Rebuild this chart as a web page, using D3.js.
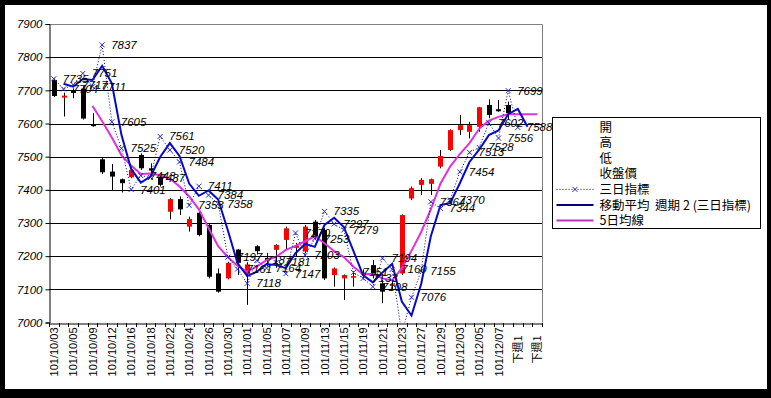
<!DOCTYPE html>
<html>
<head>
<meta charset="utf-8">
<script src="https://cdn.jsdelivr.net/npm/d3@7"></script>
<style>
body { margin: 0; background: #000; }
svg { display: block; }
.num { font-family: "Liberation Sans", Arial, sans-serif; font-style: italic; font-size: 11.5px; fill: #000; }
.cjk { font-family: "Noto Sans CJK TC", "Noto Sans CJK SC", sans-serif; font-size: 12.5px; fill: #000; }
</style>
</head>
<body>
<svg width="771" height="398"></svg>
<script>
var dates = ["101/10/03","101/10/04","101/10/05","101/10/08","101/10/09","101/10/11","101/10/12","101/10/15",
    "101/10/16","101/10/17","101/10/18","101/10/19","101/10/22","101/10/23","101/10/24","101/10/25","101/10/26",
    "101/10/29","101/10/30","101/10/31","101/11/01","101/11/02","101/11/05","101/11/06","101/11/07","101/11/08",
    "101/11/09","101/11/12","101/11/13","101/11/14","101/11/15","101/11/16","101/11/19","101/11/20","101/11/21",
    "101/11/22","101/11/23","101/11/26","101/11/27","101/11/28","101/11/29","101/11/30","101/12/03","101/12/04",
    "101/12/05","101/12/06","101/12/07","101/12/10","下週1","下週1","下週1"];

var opens  = [7731,7678,7700,7705,7598,7492,7455,7432,7438,7505,7465,7440,7334,7372,7289,7331,7294,7148,7133,7220,
    7145,7230,7195,7219,7249,7225,7214,7304,7279,7143,7133,7135,7150,7173,7118,7110,7148,7374,7415,7418,
    7470,7520,7580,7575,7590,7656,7643,7656];
var highs  = [7736,7693,7706,7712,7631,7498,7478,7434,7470,7510,7480,7445,7375,7380,7319,7333,7298,7163,7183,7222,
    7182,7233,7210,7236,7289,7240,7294,7309,7285,7166,7145,7153,7160,7188,7128,7125,7326,7410,7435,7434,
    7520,7582,7626,7605,7650,7673,7671,7666];
var lows   = [7680,7621,7676,7612,7590,7448,7397,7392,7435,7460,7450,7410,7311,7324,7274,7260,7133,7090,7130,7143,
    7053,7205,7170,7165,7219,7200,7209,7250,7128,7108,7068,7108,7130,7133,7058,7100,7143,7369,7384,7384,
    7465,7517,7565,7555,7575,7616,7635,7611];
var closes = [7683,7684,7692,7615,7592,7453,7440,7420,7460,7465,7458,7415,7372,7341,7312,7264,7138,7093,7180,7180,
    7175,7215,7188,7234,7284,7232,7289,7259,7133,7163,7143,7140,7145,7143,7093,7115,7324,7405,7430,7432,
    7502,7580,7595,7595,7649,7626,7637,7631];

// 三日指標
var threeDay = [7735,7704,7717,7751,7711,7837,7605,7525,7401,7443,7437,7561,7520,7484,7353,7411,7384,7358,7197,7161,
    7118,7187,7164,7181,7147,7270,7203,7253,7335,7297,7279,7151,7133,7108,7194,7160,6966,7076,7155,7364,
    7344,7370,7454,7513,7528,7602,7556,7699,7588];
// 移動平均 週期 2 (三日指標)
var ma2 = [null,7720,7711,7734,7731,7774,7721,7565,7463,7422,7440,7499,7541,7502,7419,7382,7398,7371,7278,7179,
    7140,7153,7176,7173,7164,7209,7237,7228,7294,7316,7288,7215,7142,7121,7151,7177,7063,7021,7116,7260,
    7354,7360,7420,7484,7521,7565,7579,7628,7644,7590];
// 5日均線
var ma5 = [null,null,null,null,7653,7607,7558,7504,7473,7448,7449,7444,7434,7410,7380,7341,7285,7230,7197,7171,
    7153,7169,7188,7198,7219,7231,7245,7260,7239,7215,7197,7168,7145,7147,7133,7127,7164,7216,7273,7341,
    7419,7470,7508,7541,7584,7609,7620,7628,7628,7628,7628];

var yTicks = [7000,7100,7200,7300,7400,7500,7600,7700,7800,7900];
var legendNames = ["開","高","低","收盤價","三日指標","移動平均  週期 2 (三日指標)","5日均線"];

var svg = d3.select("svg");
var pL = 49, pR = 542, pT = 24, pB = 322.5;

var x = d3.scaleBand().domain(d3.range(dates.length)).range([pL, pR]);
var y = d3.scaleLinear().domain([7000, 7900]).range([pB, pT]);
var cx = function (i) { return x(i) + x.bandwidth() / 2; };

svg.append("rect").attr("x", 5).attr("y", 5).attr("width", 762).attr("height", 384).attr("fill", "#fff");

svg.append("clipPath").attr("id", "plotclip").append("rect")
    .attr("x", pL).attr("y", pT).attr("width", pR - pL).attr("height", pB - pT);

// gridlines
svg.append("g").selectAll("line").data(yTicks.slice(1, -1)).enter().append("line")
    .attr("x1", pL).attr("x2", pR)
    .attr("y1", function (d) { return Math.round(y(d)) + 0.5; })
    .attr("y2", function (d) { return Math.round(y(d)) + 0.5; })
    .attr("stroke", "#000");

// plot border (top/right)
svg.append("path")
    .attr("d", "M" + pL + "," + (pT + 0.5) + "H" + (pR + 0.5) + "V" + pB)
    .attr("fill", "none").attr("stroke", "#808080");

// y axis
var yAxis = svg.append("g").attr("transform", "translate(" + (pL + 0.5) + ",0)")
    .call(d3.axisLeft(y).tickValues(yTicks).tickSize(4).tickPadding(3).tickFormat(d3.format("d")));
yAxis.select(".domain").attr("stroke", "#000");
yAxis.selectAll(".tick text").attr("class", "num");
yAxis.attr("font-family", null).attr("font-size", null);

// x axis
var xAxis = svg.append("g").attr("transform", "translate(0," + (Math.round(pB) + 0.5) + ")")
    .call(d3.axisBottom(x).tickSize(0).tickFormat(""));
xAxis.select(".domain").attr("stroke", "#000");
svg.append("g").selectAll("line").data(d3.range(dates.length + 1)).enter().append("line")
    .attr("x1", function (i) { return Math.round(pL + i * x.step()) + 0.5; })
    .attr("x2", function (i) { return Math.round(pL + i * x.step()) + 0.5; })
    .attr("y1", Math.round(pB)).attr("y2", Math.round(pB) + 4)
    .attr("stroke", "#000");
svg.append("g").selectAll("text").data(d3.range(0, dates.length, 2)).enter().append("text")
    .attr("class", function (i) { return dates[i].indexOf("下") === 0 ? "cjk" : "num"; })
    .style("font-style", "normal")
    .style("font-size", "11px")
    .attr("text-anchor", "end")
    .attr("transform", function (i) {
        var dy = dates[i].indexOf("下") === 0 ? 13 : 5;
        return "translate(" + (cx(i) + 4) + "," + (pB + dy) + ") rotate(-90)";
    })
    .text(function (i) { return dates[i]; });

var plot = svg.append("g").attr("clip-path", "url(#plotclip)");

// candles
var candles = plot.append("g").selectAll("g").data(closes).enter().append("g");
candles.append("line")
    .attr("x1", function (d, i) { return Math.round(cx(i)) + 0.5; })
    .attr("x2", function (d, i) { return Math.round(cx(i)) + 0.5; })
    .attr("y1", function (d, i) { return y(highs[i]); })
    .attr("y2", function (d, i) { return y(lows[i]); })
    .attr("stroke", "#000");
candles.append("rect")
    .attr("x", function (d, i) { return Math.round(cx(i)) - 2; })
    .attr("width", 5)
    .attr("y", function (d, i) { return y(Math.max(d, opens[i])); })
    .attr("height", function (d, i) { return Math.max(1.5, Math.abs(y(d) - y(opens[i]))); })
    .attr("fill", function (d, i) { return d >= opens[i] ? "#ff0000" : "#000"; });

var line = function (arr) {
    return d3.line().defined(function (d) { return d != null; })
        .x(function (d, i) { return cx(i); }).y(function (d) { return y(d); })(arr);
};
// 5日均線
plot.append("path").attr("d", line(ma5)).attr("fill", "none")
    .attr("stroke", "#e030e0").attr("stroke-width", 2);
// 三日指標 dotted
plot.append("path").attr("d", line(threeDay)).attr("fill", "none")
    .attr("stroke", "#000080").attr("stroke-width", 1).attr("stroke-dasharray", "1,2");
// 移動平均
plot.append("path").attr("d", line(ma2)).attr("fill", "none")
    .attr("stroke", "#0808c8").attr("stroke-width", 2);

// markers
var cross = function (sel, px, py) {
    sel.append("path")
        .attr("d", "M" + (px - 2.5) + "," + (py - 2.5) + "L" + (px + 2.5) + "," + (py + 2.5) +
            "M" + (px - 2.5) + "," + (py + 2.5) + "L" + (px + 2.5) + "," + (py - 2.5))
        .attr("stroke", "#2a2ad0").attr("stroke-width", 1);
};
threeDay.forEach(function (d, i) { cross(plot, cx(i), y(d)); });

// data labels
var labelIdx = d3.range(threeDay.length).filter(function (i) { return threeDay[i] >= 7000; });
svg.append("g").selectAll("text").data(labelIdx).enter()
    .append("text").attr("class", "num")
    .attr("x", function (i) { return cx(i) + 9; })
    .attr("y", function (i) { return y(threeDay[i]) + 4; })
    .text(function (i) { return threeDay[i]; });

// legend
var lg = svg.append("g").attr("transform", "translate(552.5,117.5)");
lg.append("rect").attr("width", 208).attr("height", 111).attr("fill", "#fff").attr("stroke", "#000");
var rowY = function (k) { return 9.5 + k * 15.6; };
lg.selectAll("text").data(legendNames).enter().append("text").attr("class", "cjk")
    .attr("x", 47).attr("y", function (d, k) { return rowY(k) + 4.5; })
    .style("white-space", "pre")
    .text(function (d) { return d; });
lg.append("line").attr("x1", 4).attr("x2", 41).attr("y1", rowY(4)).attr("y2", rowY(4))
    .attr("stroke", "#000080").attr("stroke-dasharray", "1,2");
cross(lg, 22.5, rowY(4));
lg.append("line").attr("x1", 4).attr("x2", 41).attr("y1", rowY(5)).attr("y2", rowY(5))
    .attr("stroke", "#000080").attr("stroke-width", 2);
lg.append("line").attr("x1", 4).attr("x2", 41).attr("y1", rowY(6)).attr("y2", rowY(6))
    .attr("stroke", "#c030c0").attr("stroke-width", 2);
</script>
</body>
</html>
